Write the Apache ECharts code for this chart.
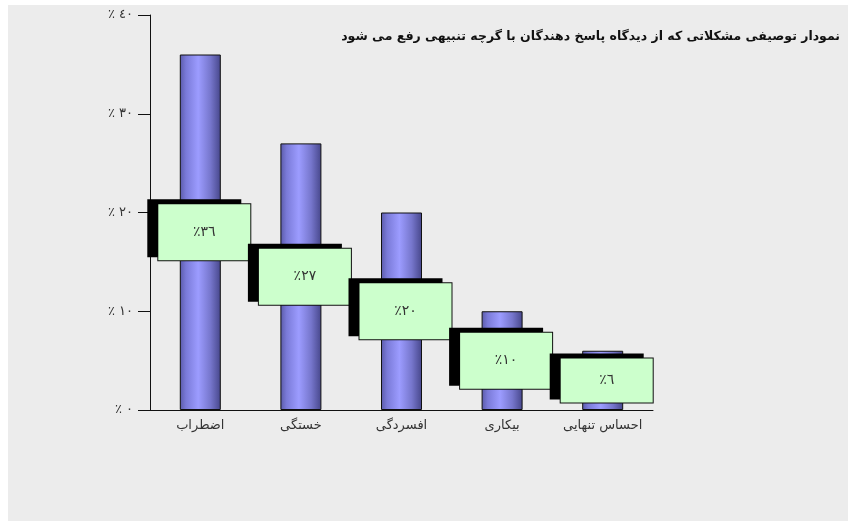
<!DOCTYPE html>
<html><head><meta charset="utf-8">
<script src="https://cdn.jsdelivr.net/npm/echarts@6/dist/echarts.min.js"></script>
<style>
html,body{margin:0;padding:0;background:#fff}
#c{width:850px;height:526px;background:#ececec;box-shadow:inset 8px 5px 0 #fff, inset -2px -5px 0 #fff;}
</style>
</head><body><div id="c"></div>
<script>
const categories = ['اضطراب', 'خستگی', 'افسردگی', 'بیکاری', 'احساس تنهایی'];
const values = [36, 27, 20, 10, 6];
const valueLabels = ['٪٣٦', '٪٢٧', '٪٢٠', '٪١٠', '٪٦'];
const yTickLabels = ['٪ ٠', '٪ ١٠', '٪ ٢٠', '٪ ٣٠', '٪ ٤٠'];
const titleText = 'نمودار توصیفی مشکلاتی که از دیدگاه پاسخ دهندگان با گرچه تنبیهی رفع می شود';

const FONT = 'DejaVu Sans';
const chart = echarts.init(document.getElementById('c'), null, {renderer: 'canvas'});

const barColor = new echarts.graphic.LinearGradient(0, 0, 1, 0, [
  {offset: 0, color: '#5a5aa8'},
  {offset: 0.15, color: '#7a7ad8'},
  {offset: 0.45, color: '#9c9cff'},
  {offset: 0.75, color: '#7676cc'},
  {offset: 1, color: '#46468a'}
]);

const data = values.map((v, i) => {
  const item = {value: v};
  if (i === values.length - 1) item.label = {height: 44, lineHeight: 44};
  return item;
});

chart.setOption({
  animation: false,
  backgroundColor: 'transparent',
  title: {
    text: titleText,
    right: 5,
    top: 25,
    textStyle: {fontFamily: FONT, fontSize: 12.5, fontWeight: 'bold', color: '#111'}
  },
  grid: {left: 150, right: 197, top: 15, bottom: 116, containLabel: false},
  xAxis: {
    type: 'category',
    data: categories,
    axisLine: {lineStyle: {color: '#111', width: 1}},
    axisTick: {show: false},
    axisLabel: {interval: 0, fontFamily: FONT, fontSize: 13, color: '#333', margin: 9}
  },
  yAxis: {
    type: 'value',
    min: 0, max: 40, interval: 10,
    axisLine: {show: true, lineStyle: {color: '#111', width: 1}},
    axisTick: {show: true, inside: false, length: 12, lineStyle: {color: '#111'}},
    splitLine: {show: false},
    axisLabel: {
      fontFamily: FONT, fontSize: 13, color: '#333', margin: 17,
      formatter: v => yTickLabels[Math.round(v / 10)]
    }
  },
  series: [{
    type: 'bar',
    data: data,
    barWidth: 41,
    itemStyle: {color: barColor, borderColor: '#111', borderWidth: 1},
    label: {
      show: true,
      position: 'inside',
      offset: [4, 0],
      formatter: p => valueLabels[p.dataIndex],
      fontFamily: FONT,
      fontSize: 14,
      color: '#333',
      backgroundColor: '#ccffcc',
      borderColor: '#111',
      borderWidth: 1,
      width: 92,
      height: 56,
      lineHeight: 56,
      align: 'center',
      verticalAlign: 'middle',
      shadowColor: '#000',
      shadowBlur: 0,
      shadowOffsetX: -10,
      shadowOffsetY: -4
    }
  }]
});
</script>
</body></html>
